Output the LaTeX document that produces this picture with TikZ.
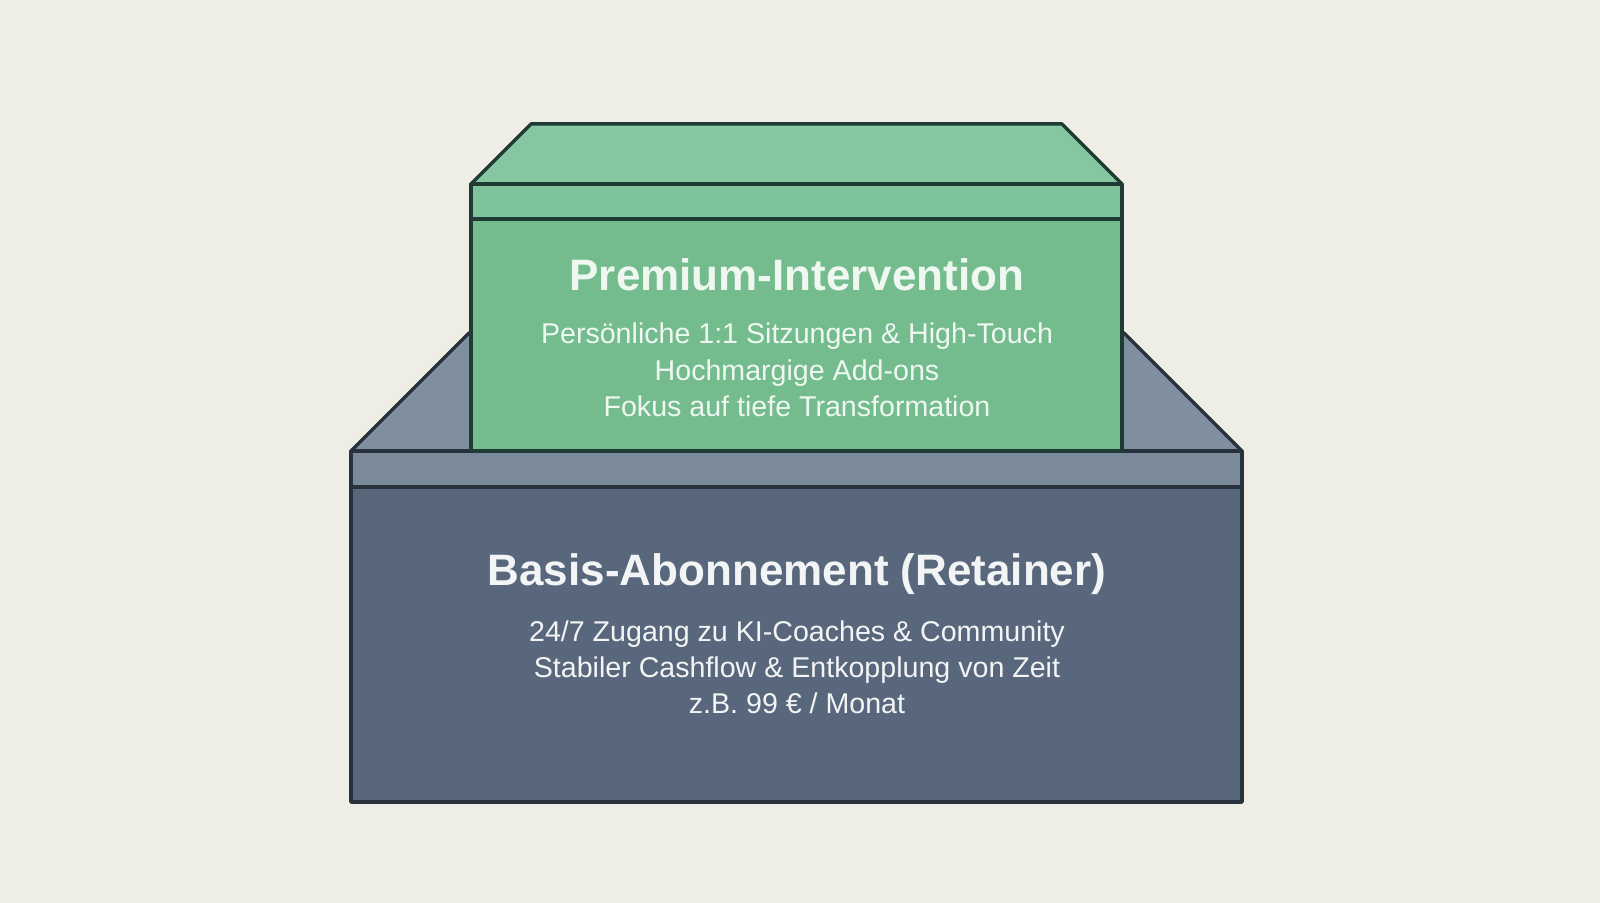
\documentclass[tikz,border=0pt]{standalone}
\usepackage{fontspec}
\setmainfont{Liberation Sans}
\definecolor{bg}{HTML}{EFEEE6}
\definecolor{grayTop}{HTML}{7F8FA0}
\definecolor{grayBand}{HTML}{7A8A9B}
\definecolor{grayFront}{HTML}{58677B}
\definecolor{grayLine}{HTML}{27323C}
\definecolor{greenTop}{HTML}{86C6A0}
\definecolor{greenBand}{HTML}{7EC39B}
\definecolor{greenFront}{HTML}{74BC8E}
\definecolor{greenLine}{HTML}{1F3B33}
\definecolor{txtG}{HTML}{EEF8F1}
\definecolor{txtB}{HTML}{F3F4F5}
\tikzset{
  grayface/.style={draw=grayLine, line width=1.75pt, line join=round},
  greenface/.style={draw=greenLine, line width=1.75pt, line join=round},
  titletext/.style={anchor=base, inner sep=0pt, font=\fontsize{22}{26}\selectfont\bfseries},
  bodytext/.style={anchor=base, inner sep=0pt, font=\fontsize{14.3}{18}\selectfont},
}
\begin{document}
\begin{tikzpicture}[x=0.5pt,y=-0.5pt]
\fill[bg] (0,0) rectangle (1600,903);
\useasboundingbox (0,0) rectangle (1600,903);
% bottom box
\draw[grayface, fill=grayTop] (351,451) -- (469,333) -- (1124,333) -- (1242,451) -- cycle;
\draw[grayface, fill=grayBand] (351,451) rectangle (1242,487);
\draw[grayface, fill=grayFront] (351,487) rectangle (1242,802);
% top box
\draw[greenface, fill=greenTop] (471,184) -- (531,124) -- (1062,124) -- (1122,184) -- cycle;
\draw[greenface, fill=greenBand] (471,184) rectangle (1122,219);
\draw[greenface, fill=greenFront] (471,219) rectangle (1122,451);
% top texts
\node[titletext, text=txtG] (pt) at (797,291) {Premium-Intervention};
\node[bodytext, text=txtG] (p1) at (797,344) {Persönliche 1:1 Sitzungen \& High-Touch};
\node[bodytext, text=txtG] (p2) at (797,380) {Hochmargige Add-ons};
\node[bodytext, text=txtG] (p3) at (797,416) {Fokus auf tiefe Transformation};
% bottom texts
\node[titletext, text=txtB] (bt) at (797,585) {Basis-Abonnement (Retainer)};
\node[bodytext, text=txtB] (b1) at (797,641) {24/7 Zugang zu KI-Coaches \& Community};
\node[bodytext, text=txtB] (b2) at (797,677) {Stabiler Cashflow \& Entkopplung von Zeit};
\node[bodytext, text=txtB] (b3) at (797,713) {z.B. 99 € / Monat};
\end{tikzpicture}
\end{document}
